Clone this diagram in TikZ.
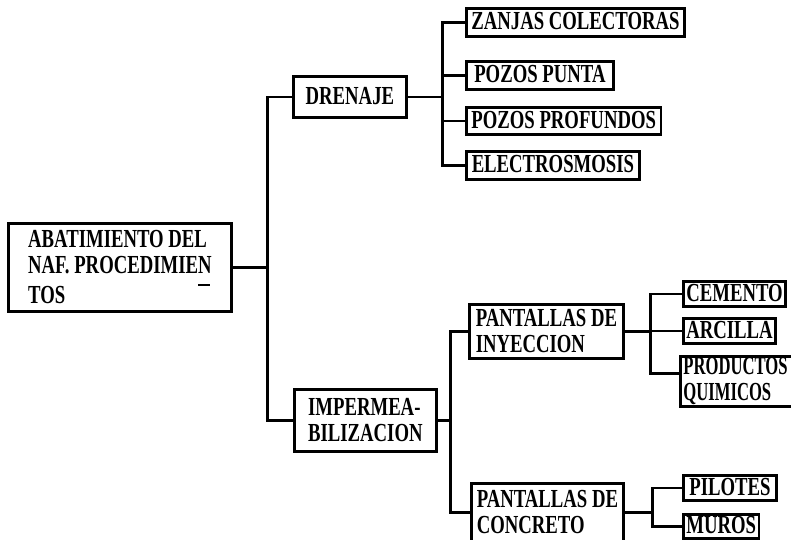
\documentclass[tikz,border=0pt]{standalone}
\usepackage{fontspec}
\newfontfamily\tw[FakeStretch=0.72]{Liberation Serif}
\newfontfamily\twn[FakeStretch=0.64]{Liberation Serif}
\begin{document}
\begin{tikzpicture}[x=1pt,y=-1pt,
  box/.style={draw, line width=2.8pt, inner xsep=5pt, inner ysep=0pt, anchor=north west,
    font=\tw\bfseries\fontsize{26}{26}\selectfont},
  multi/.style={align=left},
  one/.style={text height=17pt, text depth=2pt},
  conn/.style={line width=2.8pt}]
\fill[white] (0,0) rectangle (791,539);
\useasboundingbox (0,0) rectangle (791,539);
% level 0
\node[box, multi, inner xsep=14pt, minimum width=223pt, minimum height=88pt] (root) at (7,222)
  {ABATIMIENTO DEL\\NAF. PROCEDIMIE\makebox[0pt][l]{\raisebox{-12pt}{\rule{12pt}{2.2pt}}}N\\TOS};
% level 1
\node[box, one, minimum width=113pt, minimum height=41pt] (dren) at (292,75) {DRENAJE};
\node[box, multi, minimum width=142pt, minimum height=62pt] (imp) at (293,388) {IMPERMEA-\\BILIZACION};
% drenaje children
\node[box, one, minimum width=218pt, minimum height=28pt] (zan) at (465,7) {ZANJAS COLECTORAS};
\node[box, one, minimum width=147pt, minimum height=28pt] (pun) at (465,60) {POZOS PUNTA};
\node[box, one, minimum width=189pt, minimum height=27pt] (pro) at (465,106) {POZOS PROFUNDOS};
\node[box, one, minimum width=173pt, minimum height=28pt] (ele) at (465,150) {ELECTROSMOSIS};
% impermeabilizacion children
\node[box, multi, minimum width=154pt, minimum height=54pt] (iny) at (468,303) {PANTALLAS DE\\INYECCION};
\node[box, multi, minimum width=152pt, minimum height=58pt] (con) at (470,482) {PANTALLAS DE\\CONCRETO};
% inyeccion children
\node[box, one, inner xsep=3pt, minimum width=86pt, minimum height=25pt] (cem) at (682,280) {CEMENTO};
\node[box, one, inner xsep=3pt, minimum width=88pt, minimum height=25pt] (arc) at (682,317) {ARCILLA};
\node[box, multi, inner xsep=3pt, text width=112pt, minimum height=50pt,
  font=\twn\bfseries\fontsize{26}{26}\selectfont] (prq) at (679,355) {PRODUCTOS\\QUIMICOS};
% concreto children
\node[box, one, inner xsep=3pt, minimum width=93pt, minimum height=25pt] (pil) at (682,474) {PILOTES};
\node[box, one, inner xsep=3pt, minimum width=60pt, minimum height=24pt] (mur) at (682,513) {MUROS};
% connectors
\draw[conn] (root.east) -- ++(35,0) coordinate (ja);
\draw[conn] (ja) |- (dren.west);
\draw[conn] (ja) |- (imp.west);
\draw[conn] (dren.east) -- ++(35,0) coordinate (jb);
\draw[conn] (jb) |- (zan.west);
\draw[conn] (jb) |- (pun.west);
\draw[conn] (jb) |- (pro.west);
\draw[conn] (jb) |- (ele.west);
\draw[conn] (imp.east) -- ++(13,0) coordinate (jc);
\draw[conn] (jc) |- (iny.west);
\draw[conn] (jc) |- (con.west);
\draw[conn] (iny.east) -- ++(26,0) coordinate (jd);
\draw[conn] (jd) |- (cem.west);
\draw[conn] (jd) |- (arc.west);
\draw[conn] (jd) |- ([yshift=8pt]prq.west);
\draw[conn] (con.east) -- ++(28,0) coordinate (je);
\draw[conn] (je) |- (pil.west);
\draw[conn] (je) |- (mur.west);
\end{tikzpicture}
\end{document}
